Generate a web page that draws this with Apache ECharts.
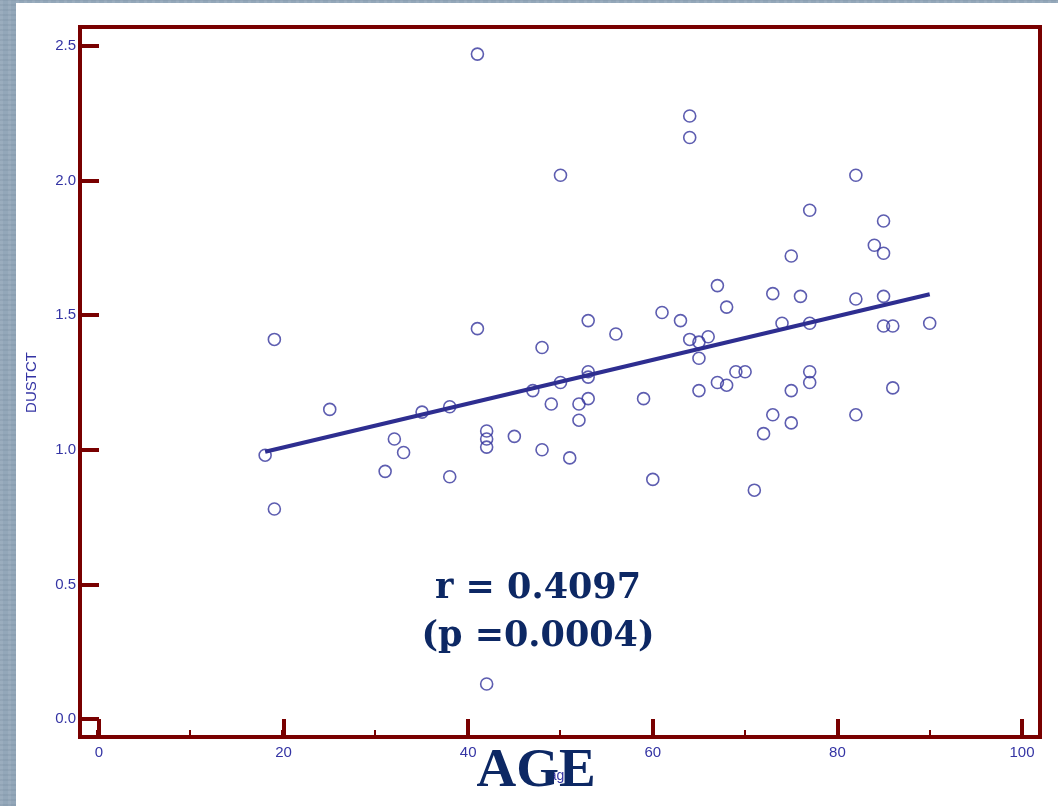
<!DOCTYPE html>
<html>
<head>
<meta charset="utf-8">
<title>DUSTCT vs age</title>
<script src="https://cdn.jsdelivr.net/npm/echarts@6/dist/echarts.min.js"></script>
<style>
  html, body { margin: 0; padding: 0; }
  body {
    width: 1058px; height: 806px; overflow: hidden; position: relative;
    background-color: #93a7b9;
    background-image:
      repeating-linear-gradient(0deg, rgba(70,92,115,0.10) 0 2px, rgba(0,0,0,0) 2px 5px),
      repeating-linear-gradient(90deg, rgba(255,255,255,0.07) 0 3px, rgba(0,0,0,0) 3px 8px);
  }
  #chart {
    position: absolute; left: 16px; top: 3px;
    width: 1042px; height: 803px; background: #ffffff;
  }
</style>
</head>
<body>
<div id="chart"></div>
<script>
// Age (years) and DUSTCT measurement for each subject
const ages = [18, 19, 19, 25, 31, 32, 33, 35, 38, 38, 41, 41, 42, 42, 42, 42, 45, 47, 48, 48,
  49, 50, 50, 51, 52, 52, 53, 53, 53, 53, 56, 59, 60, 61, 63, 64, 64, 64, 65, 65,
  65, 66, 67, 67, 68, 68, 69, 70, 71, 72, 73, 73, 74, 75, 75, 75, 76, 77, 77, 77,
  77, 82, 82, 82, 84, 85, 85, 85, 85, 86, 86, 90];
const dustct = [0.98, 1.41, 0.78, 1.15, 0.92, 1.04, 0.99, 1.14, 1.16, 0.90, 2.47, 1.45, 1.07, 1.04, 1.01, 0.13, 1.05, 1.22, 1.38, 1.00,
  1.17, 2.02, 1.25, 0.97, 1.11, 1.17, 1.48, 1.29, 1.27, 1.19, 1.43, 1.19, 0.89, 1.51, 1.48, 2.24, 2.16, 1.41, 1.40, 1.34,
  1.22, 1.42, 1.61, 1.25, 1.53, 1.24, 1.29, 1.29, 0.85, 1.06, 1.58, 1.13, 1.47, 1.72, 1.22, 1.10, 1.57, 1.89, 1.47, 1.29,
  1.25, 2.02, 1.56, 1.13, 1.76, 1.85, 1.73, 1.57, 1.46, 1.46, 1.23, 1.47];

// Least-squares fit line end points (age, DUSTCT)
const fitAges = [18, 90];
const fitValues = [0.993, 1.578];

// Axis ticks
const xTicks = [0, 20, 40, 60, 80, 100];
const xMinorStep = 10;
const yTicks = [0.0, 0.5, 1.0, 1.5, 2.0, 2.5];

const statLines = ['r = 0.4097', '(p =0.0004)'];
const bigTitle = 'AGE';

// Layout
const W = 1042, H = 803;
const gridLeft = 81, gridRight = 36, gridTop = 43, gridBottom = 87;
const gap = 18;            // distance from the data area to the frame
const frame = { x: 64, y: 24, width: 960, height: 710 };
const frameColor = '#790000';
const labelColor = '#3434a4';
const markColor = '#34349c';
const navy = '#0d2864';
const sans = 'Liberation Sans, Arial, sans-serif';

const chart = echarts.init(document.getElementById('chart'), null, { renderer: 'canvas' });

const points = ages.map((a, i) => [a, dustct[i]]);
const fit = fitAges.map((a, i) => [a, fitValues[i]]);

const xMin = xTicks[0], xMax = xTicks[xTicks.length - 1];

chart.setOption({
  animation: false,
  backgroundColor: '#ffffff',
  grid: [
    // data area
    { left: gridLeft, right: gridRight, top: gridTop, bottom: gridBottom, containLabel: false },
    // strip along the bottom frame edge that carries the short minor ticks
    { left: gridLeft, right: gridRight, top: H - gridBottom, bottom: gridBottom - gap, containLabel: false }
  ],
  xAxis: [
    {
      type: 'value', gridIndex: 0,
      min: xMin, max: xMax, interval: xTicks[1] - xTicks[0],
      axisLine: { show: false },
      axisTick: { show: true, inside: false, length: gap, lineStyle: { color: frameColor, width: 4 } },
      splitLine: { show: false },
      axisLabel: { margin: 26, color: labelColor, fontSize: 15, fontFamily: sans },
      name: 'age', nameLocation: 'middle', nameGap: 50,
      nameTextStyle: { color: labelColor, fontSize: 14, fontFamily: sans }
    },
    {
      type: 'value', gridIndex: 1,
      min: xMin, max: xMax, interval: xMinorStep,
      axisLine: { show: false },
      axisTick: { show: true, inside: true, length: 7, lineStyle: { color: frameColor, width: 2 } },
      splitLine: { show: false },
      axisLabel: { show: false }
    }
  ],
  yAxis: [
    {
      type: 'value', gridIndex: 0,
      min: yTicks[0], max: yTicks[yTicks.length - 1], interval: yTicks[1] - yTicks[0],
      axisLine: { show: false },
      axisTick: { show: true, inside: false, length: gap, lineStyle: { color: frameColor, width: 4 } },
      splitLine: { show: false },
      axisLabel: {
        margin: 23, color: labelColor, fontSize: 15, fontFamily: sans,
        formatter: v => v.toFixed(1)
      },
      name: 'DUSTCT', nameLocation: 'middle', nameGap: 60, nameRotate: 90,
      nameTextStyle: { color: labelColor, fontSize: 15, fontFamily: sans }
    },
    { type: 'value', gridIndex: 1, show: false }
  ],
  series: [
    {
      type: 'scatter',
      xAxisIndex: 0, yAxisIndex: 0,
      data: points,
      symbol: 'circle',
      symbolSize: 12,
      itemStyle: { color: 'rgba(0,0,0,0)', borderColor: markColor, borderWidth: 1.6 },
      z: 2
    },
    {
      type: 'line',
      xAxisIndex: 0, yAxisIndex: 0,
      data: fit,
      showSymbol: false,
      lineStyle: { color: '#2e2e90', width: 4 },
      z: 3
    }
  ],
  graphic: [
    {
      type: 'rect', silent: true, z: 10,
      shape: frame,
      style: { fill: 'none', stroke: frameColor, lineWidth: 4 }
    },
    {
      type: 'text', z: 20, x: 522, y: 586,
      style: { text: statLines[0], fill: navy, font: 'bold 35px "DejaVu Serif", serif', align: 'center', verticalAlign: 'middle' }
    },
    {
      type: 'text', z: 20, x: 522, y: 634,
      style: { text: statLines[1], fill: navy, font: 'bold 35px "DejaVu Serif", serif', align: 'center', verticalAlign: 'middle' }
    },
    {
      type: 'text', z: 20, x: 520, y: 769,
      style: { text: bigTitle, fill: navy, font: 'bold 55px "Liberation Serif", "Times New Roman", serif', align: 'center', verticalAlign: 'middle' }
    }
  ]
});
</script>
</body>
</html>
